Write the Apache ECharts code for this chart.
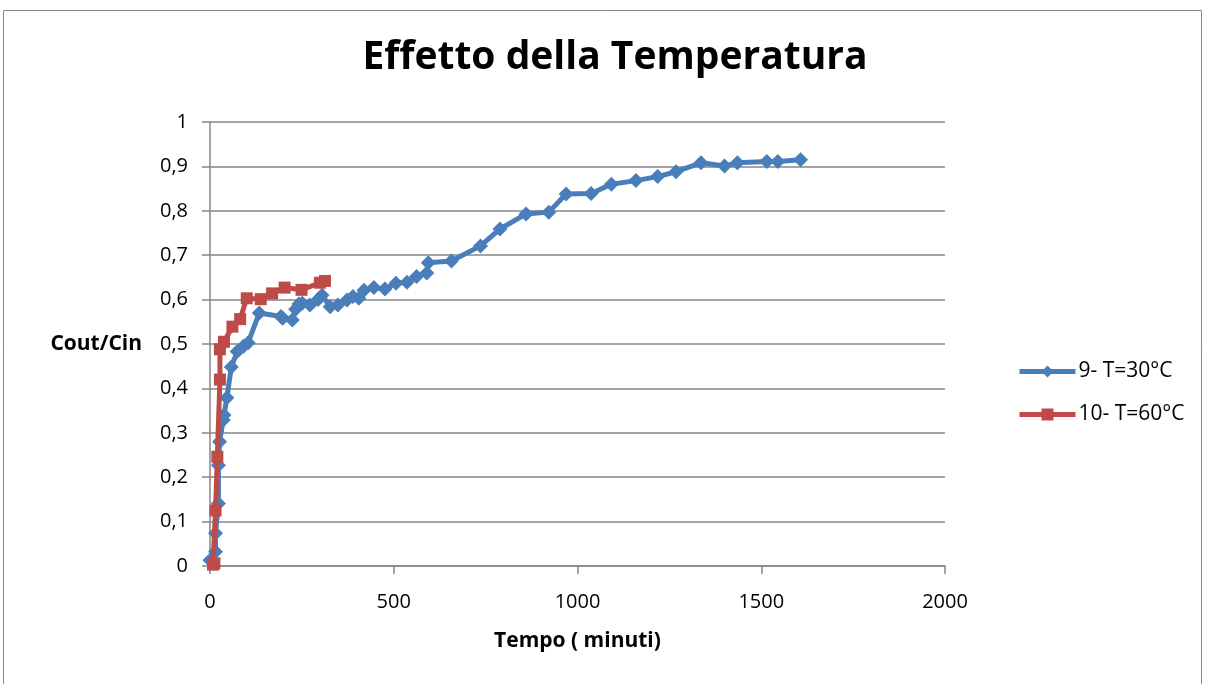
<!DOCTYPE html>
<html><head><meta charset="utf-8">
<script src="https://cdn.jsdelivr.net/npm/echarts@6/dist/echarts.min.js"></script>
<style>html,body{margin:0;padding:0;background:#fff}#c{width:1205px;height:684px}</style>
</head><body><div id="c"></div>
<script>
const titleText = 'Effetto della Temperatura';
const xName = 'Tempo ( minuti)';
const yName = 'Cout/Cin';
const seriesNames = ['9- T=30°C', '10- T=60°C'];
const blueX = [0,15,15,23,23,26,36,38,46,58,74,91,104,134,193,198,224,233,242,251,272,294,305,327,348,373,389,405,419,446,476,506,536,562,590,594,657,736,789,860,922,969,1037,1092,1159,1218,1268,1336,1400,1435,1515,1545,1607];
const blueY = [0.013,0.032,0.074,0.141,0.227,0.28,0.329,0.34,0.379,0.448,0.483,0.495,0.503,0.570,0.562,0.558,0.554,0.578,0.59,0.592,0.588,0.6,0.61,0.584,0.588,0.599,0.607,0.603,0.621,0.627,0.624,0.637,0.639,0.652,0.66,0.683,0.687,0.721,0.759,0.793,0.797,0.838,0.839,0.86,0.868,0.877,0.888,0.908,0.901,0.908,0.911,0.911,0.915];
const redX = [8,12,15,20,27,27,38,61,82,100,138,169,203,249,299,313];
const redY = [0.003,0.006,0.125,0.246,0.42,0.488,0.505,0.539,0.556,0.603,0.601,0.614,0.627,0.622,0.638,0.642];
const xTicks = {min:0, max:2000, interval:500};
const yTicks = {min:0, max:1, interval:0.1};

const font = "'Open Sans', 'Liberation Sans', sans-serif";
const chart = echarts.init(document.getElementById('c'));
chart.setOption({
  animation:false,
  backgroundColor:'#fff',
  graphic:[{type:'rect',shape:{x:3.5,y:10.5,width:1198,height:690},style:{fill:'none',stroke:'#888',lineWidth:1},silent:true}],
  title:{text:titleText,left:610,top:33,textAlign:'center',textStyle:{fontFamily:font,fontWeight:'bold',fontSize:39,color:'#000'}},
  grid:{left:210,right:260,top:122,bottom:118},
  legend:{orient:'vertical',left:1012,top:356,itemGap:22,itemWidth:56,itemHeight:15,
    lineStyle:{width:5},
    textStyle:{fontFamily:font,fontSize:21,color:'#000',padding:[0,0,0,-2]},
    data:seriesNames},
  xAxis:{type:'value',min:xTicks.min,max:xTicks.max,interval:xTicks.interval,
    name:xName,nameLocation:'middle',nameGap:65,
    nameTextStyle:{fontFamily:font,fontWeight:'bold',fontSize:21,color:'#000'},
    axisLine:{show:true,lineStyle:{color:'#868686',width:1.5}},
    axisTick:{show:true,length:8,lineStyle:{color:'#868686',width:1.5}},
    axisLabel:{fontFamily:font,fontSize:20,color:'#000',margin:26,formatter:v=>String(v)},
    splitLine:{show:false}},
  yAxis:{type:'value',min:yTicks.min,max:yTicks.max,interval:yTicks.interval,
    name:yName,nameLocation:'middle',nameRotate:0,nameGap:68,
    nameTextStyle:{fontFamily:font,fontWeight:'bold',fontSize:21,color:'#000'},
    axisLine:{show:true,lineStyle:{color:'#868686',width:1.5}},
    axisTick:{show:true,length:8,inside:false,lineStyle:{color:'#868686',width:1.5}},
    axisLabel:{fontFamily:font,fontSize:20,color:'#000',margin:22,formatter:v=>String(Math.round(v*10)/10).replace('.',',')},
    splitLine:{show:true,lineStyle:{color:'#868686',width:1.5}}},
  series:[
    {name:seriesNames[0],type:'line',data:blueX.map((x,i)=>[x,blueY[i]]),
     symbol:'diamond',symbolSize:15,showAllSymbol:true,
     lineStyle:{color:'#4A7EBB',width:5},itemStyle:{color:'#4A7EBB'},z:2},
    {name:seriesNames[1],type:'line',data:redX.map((x,i)=>[x,redY[i]]),
     symbol:'rect',symbolSize:12,showAllSymbol:true,
     lineStyle:{color:'#BE4B48',width:5},itemStyle:{color:'#BE4B48'},z:3}
  ]
});
</script></body></html>
